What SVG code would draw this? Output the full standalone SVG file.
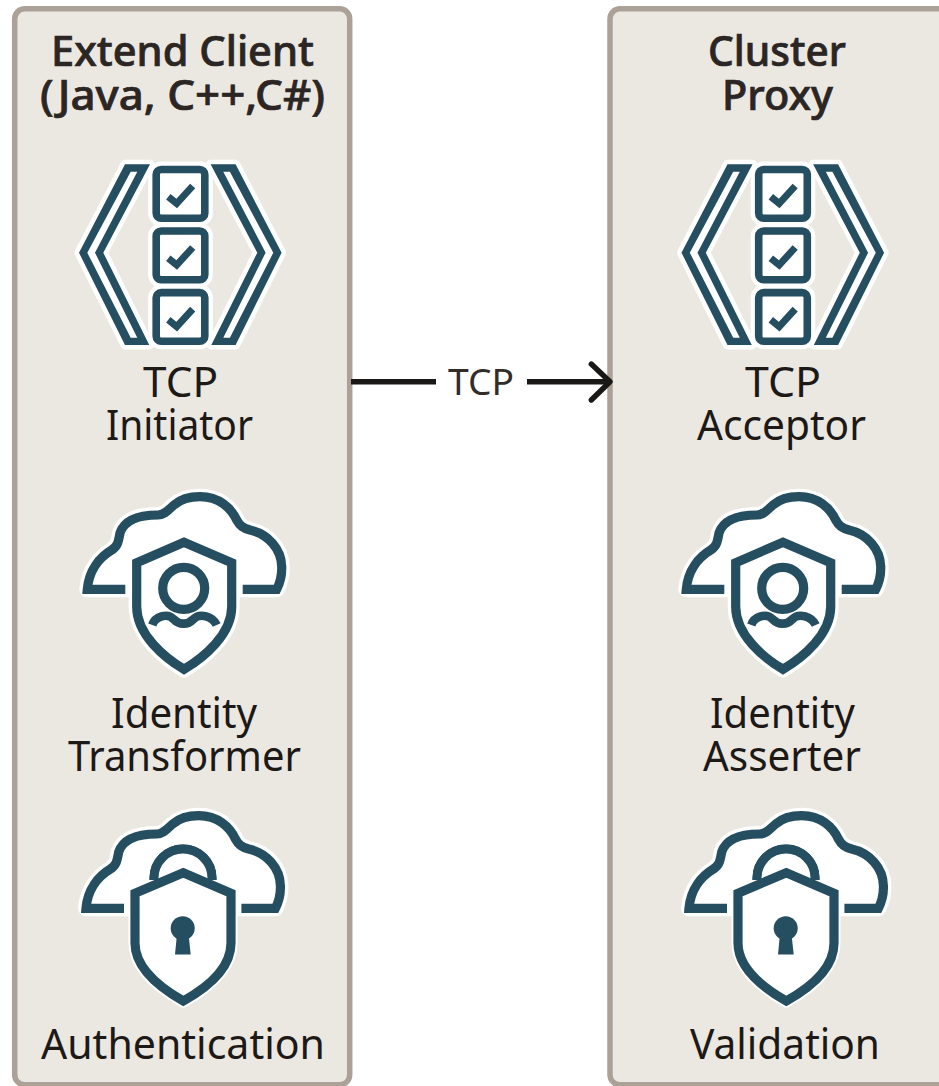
<svg xmlns="http://www.w3.org/2000/svg" xmlns:xlink="http://www.w3.org/1999/xlink" width="939" height="1086" viewBox="0 0 939 1086">
<style>
.panel{fill:#ebe8e2;stroke:#aba197;stroke-width:5.5}
text{font-family:"Noto Sans","Open Sans","Liberation Sans",sans-serif;text-anchor:middle;fill:#1c1917}
.t{font-size:41px}
.h{font-size:41px;font-weight:500;fill:#2b2623;stroke:#2b2623;stroke-width:.7}
.c{font-size:36px;fill:#312d2a}
.halo{fill:#fff;stroke:#fff;stroke-width:16;stroke-linejoin:round}
.ink{fill:#fff;stroke:#254e60;stroke-width:9.2;stroke-linejoin:miter}
.open{fill:none}
.solid{fill:#254e60}
.conn{fill:none;stroke:#1a1816;stroke-width:5.4;stroke-linejoin:round}
</style>
<defs>
<path id="chev" d="M125 164.3H150L103.3 252.7L149.3 345H125L79 252.7ZM130.7 171.7L87.3 252.7L130.7 337.7H137.3L95 252.7L137.3 171.7Z"/>
<g id="box">
<rect x="156.2" y="0" width="48.6" height="48.7" rx="5" fill="#fff" stroke="#fff" stroke-width="16"/>
<rect x="156.2" y="0" width="48.6" height="48.7" rx="5" fill="#fff" stroke="#254e60" stroke-width="7.6"/>
<path d="M168.3 27.2L176.7 34L192.7 16.5" fill="none" stroke="#254e60" stroke-width="7"/>
</g>
<g id="icon-check">
<use xlink:href="#chev" fill="#fff" stroke="#fff" stroke-width="9" stroke-linejoin="round"/>
<use xlink:href="#chev" fill="#254e60" fill-rule="evenodd"/>
<g transform="translate(360.6 0) scale(-1 1)">
<use xlink:href="#chev" fill="#fff" stroke="#fff" stroke-width="9" stroke-linejoin="round"/>
<use xlink:href="#chev" fill="#254e60" fill-rule="evenodd"/>
</g>
<use xlink:href="#box" y="169.5"/>
<use xlink:href="#box" y="231"/>
<use xlink:href="#box" y="292.6"/>
</g>
<g id="cloud">
<path d="M87.3 589.3C89 570 100 557 111.7 550C118 546 118.5 541 120 533C124 521 137 515 158 515C165 515 169 509 174 505C181 499 190 496.7 200 496.7C219 496.7 231 508 236.7 520C240 526 243 528 250 530C268 534 281.5 549 281.7 566.7C282 575 280 583 276.7 589.3Z" class="halo"/>
<path d="M125.3 589.3H87.3C89 570 100 557 111.7 550C118 546 118.5 541 120 533C124 521 137 515 158 515C165 515 169 509 174 505C181 499 190 496.7 200 496.7C219 496.7 231 508 236.7 520C240 526 243 528 250 530C268 534 281.5 549 281.7 566.7C282 575 280 583 276.7 589.3H242.7" class="ink open"/>
</g>
<g id="icon-user">
<use xlink:href="#cloud"/>
<path d="M184 542.3L136.7 562.7V606.7C136.7 635 165 658 184 669.3C203 658 231.7 635 231.7 606.7V562.7Z" class="halo"/>
<path d="M184 542.3L136.7 562.7V606.7C136.7 635 165 658 184 669.3C203 658 231.7 635 231.7 606.7V562.7Z" class="ink"/>
<circle cx="183.7" cy="588.3" r="21" class="ink"/>
<path d="M152.3 625C155 617 167 612 174 619.5C179 625 188 625 193 619.5C200 612 213 617 216.7 625" fill="none" stroke="#254e60" stroke-width="8.6"/>
</g>
<g id="icon-lock">
<use xlink:href="#cloud" x="-1.3" y="319"/>
<path d="M154 880V878A29 29 0 0 1 212 878V880" fill="#fff" stroke="#254e60" stroke-width="9"/>
<path d="M183.3 872.7L135 893.3V943C135 970 164 990 183.3 1001C203 990 231 970 231 943V893.3Z" class="halo" style="stroke-width:13"/>
<path d="M154 880V878A29 29 0 0 1 212 878V880" fill="#fff" stroke="#254e60" stroke-width="9"/>
<path d="M183.3 872.7L135 893.3V943C135 970 164 990 183.3 1001C203 990 231 970 231 943V893.3Z" class="ink"/>
<circle cx="182.7" cy="928.3" r="12" class="solid"/>
<path d="M177 934H188.5L190.7 954.5H175Z" class="solid"/>
</g>
</defs>
<g id="extend-client">
<rect x="14.7" y="8.8" width="335" height="1076" rx="10" class="panel"/>
<text class="h" x="182.5" y="66" textLength="263" lengthAdjust="spacingAndGlyphs">Extend Client</text>
<text class="h" x="182.5" y="110" textLength="285" lengthAdjust="spacingAndGlyphs">(Java, C++,C#)</text>
</g>
<g id="cluster-proxy">
<rect x="610" y="8.8" width="360" height="1076" rx="10" class="panel"/>
<text class="h" x="777" y="66" textLength="138" lengthAdjust="spacingAndGlyphs">Cluster</text>
<text class="h" x="777.5" y="110" textLength="111" lengthAdjust="spacingAndGlyphs">Proxy</text>
</g>
<g id="tcp-initiator">
<use xlink:href="#icon-check"/>
<text class="t" x="180.5" y="397" textLength="75" lengthAdjust="spacingAndGlyphs">TCP</text>
<text class="t" x="179.5" y="440" textLength="147" lengthAdjust="spacingAndGlyphs">Initiator</text>
</g>
<g id="identity-transformer">
<use xlink:href="#icon-user"/>
<text class="t" x="184" y="728" textLength="146" lengthAdjust="spacingAndGlyphs">Identity</text>
<text class="t" x="184.5" y="771" textLength="233" lengthAdjust="spacingAndGlyphs">Transformer</text>
</g>
<g id="authentication">
<use xlink:href="#icon-lock"/>
<text class="t" x="183" y="1059" textLength="284" lengthAdjust="spacingAndGlyphs">Authentication</text>
</g>
<g id="tcp-acceptor">
<use xlink:href="#icon-check" x="602.5"/>
<text class="t" x="783" y="397" textLength="76" lengthAdjust="spacingAndGlyphs">TCP</text>
<text class="t" x="781.5" y="440" textLength="169" lengthAdjust="spacingAndGlyphs">Acceptor</text>
</g>
<g id="identity-asserter">
<use xlink:href="#icon-user" x="599"/>
<text class="t" x="782.5" y="728" textLength="145" lengthAdjust="spacingAndGlyphs">Identity</text>
<text class="t" x="782" y="771" textLength="158" lengthAdjust="spacingAndGlyphs">Asserter</text>
</g>
<g id="validation">
<use xlink:href="#icon-lock" x="603"/>
<text class="t" x="785" y="1059" textLength="190" lengthAdjust="spacingAndGlyphs">Validation</text>
</g>
<g id="connectors">
<path class="conn" d="M351 381.7H436"/>
<path class="conn" d="M527 381.7H609"/>
<path class="conn" d="M591.3 364L610 381.7L591.3 400" style="stroke-linecap:round"/>
<text class="c" x="481" y="395" textLength="66" lengthAdjust="spacingAndGlyphs">TCP</text>
</g>
</svg>
